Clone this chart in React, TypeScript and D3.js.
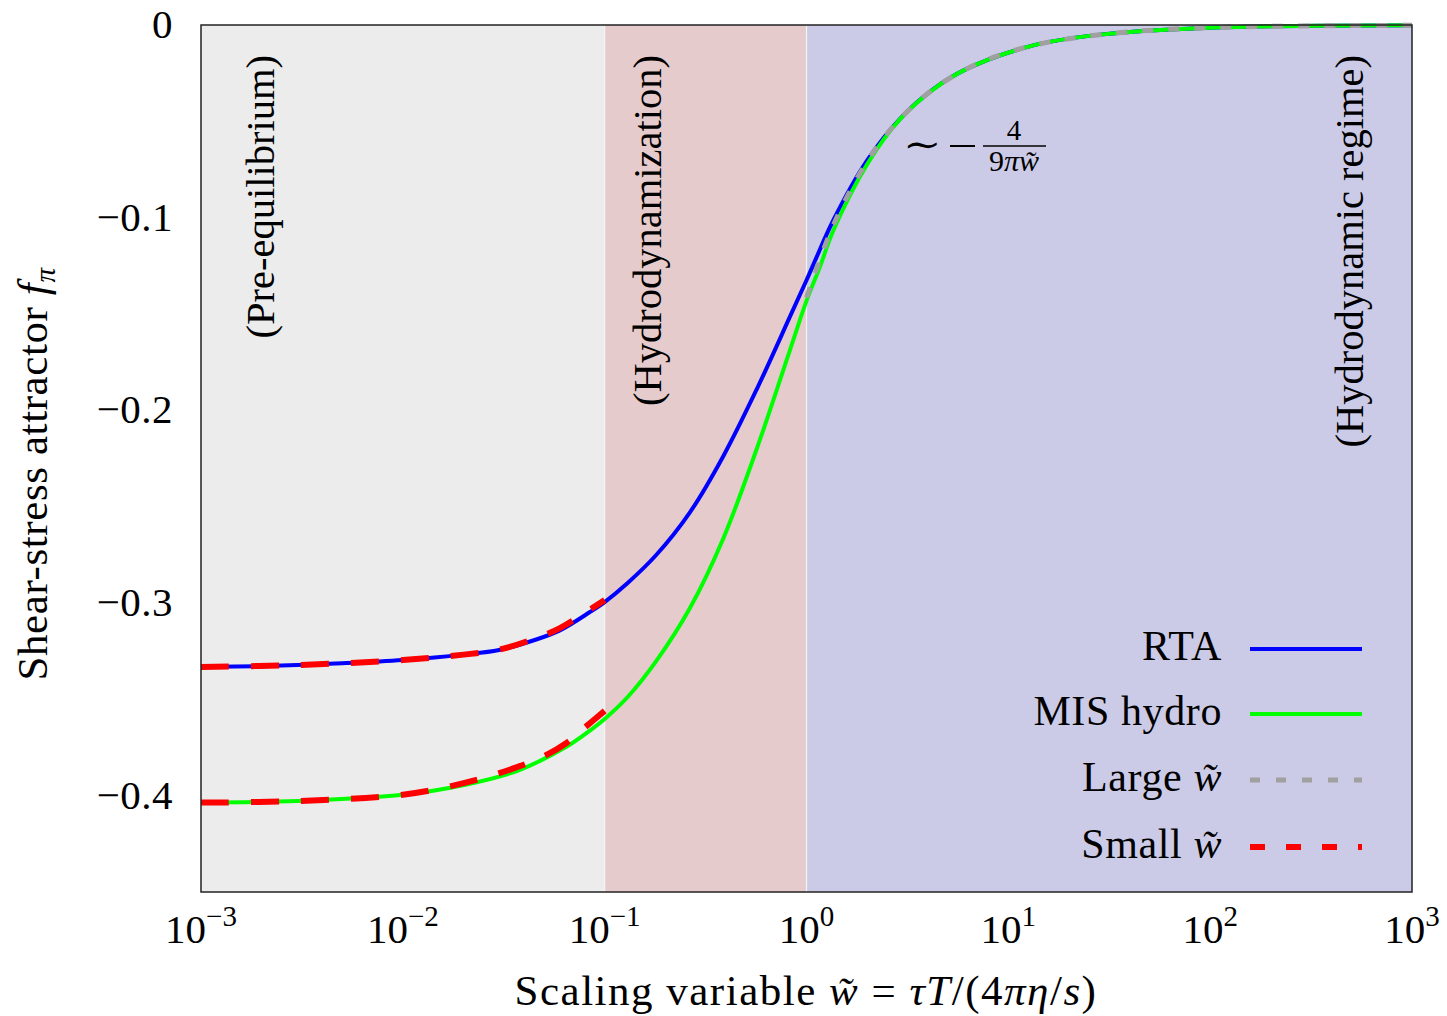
import React from "react";
import * as d3 from "d3";

// ---- data ----
const rtaW = [0.001, 0.002, 0.003, 0.005, 0.01, 0.02, 0.03, 0.045, 0.06, 0.0845, 0.1, 0.13, 0.18, 0.265, 0.387, 0.566, 0.828, 1.0, 1.08, 1.36, 1.99, 2.9, 4.25, 6.22, 13.3, 28.4, 100, 1000];
const rtaF = [-0.3332, -0.3328, -0.3322, -0.3313, -0.3296, -0.3268, -0.3244, -0.3192, -0.3142, -0.3047, -0.2995, -0.2896, -0.2751, -0.2528, -0.2238, -0.1892, -0.1514, -0.1325, -0.1245, -0.1012, -0.0705, -0.0488, -0.0333, -0.0228, -0.0106, -0.005, -0.0014, -0.00014];

const misW = [0.001, 0.003, 0.0097, 0.0207, 0.0367, 0.0649, 0.0845, 0.1, 0.13, 0.18, 0.265, 0.387, 0.566, 0.828, 1.0, 1.167, 1.36, 2.0, 2.9, 4.25, 6.22, 13.3, 28.4, 100, 1000];
const misF = [-0.4036, -0.4028, -0.3997, -0.3942, -0.3872, -0.3745, -0.3662, -0.3602, -0.3488, -0.3302, -0.3025, -0.2665, -0.2202, -0.1687, -0.1432, -0.1254, -0.1065, -0.0722, -0.049, -0.0334, -0.0228, -0.0106, -0.005, -0.0014, -0.00014];

const largeW = [1, 1.25, 1.5, 2, 2.5, 3, 4, 5, 7, 10, 15, 20, 30, 50, 100, 200, 500, 1000];
const largeF = [-0.1415, -0.1132, -0.0943, -0.0707, -0.0566, -0.0472, -0.0354, -0.0283, -0.0202, -0.0141, -0.0094, -0.0071, -0.0047, -0.0028, -0.0014, -0.0007, -0.0003, -0.00014];

const smallRtaW = [0.001, 0.003, 0.01, 0.02, 0.03, 0.045, 0.06, 0.08, 0.1];
const smallRtaF = [-0.3332, -0.3322, -0.3296, -0.3268, -0.3242, -0.3185, -0.313, -0.305, -0.2985];

const smallMisW = [0.001, 0.003, 0.01, 0.02, 0.035, 0.05, 0.065, 0.08, 0.1];
const smallMisF = [-0.4036, -0.4028, -0.3995, -0.3935, -0.386, -0.3795, -0.3725, -0.3645, -0.356];

const xTickExps = [-3, -2, -1, 0, 1, 2, 3];
const yTickVals = [0, -0.1, -0.2, -0.3, -0.4];
const yTickLabels = ["0", "\u22120.1", "\u22120.2", "\u22120.3", "\u22120.4"];

const regionBounds = [0.001, 0.1, 1, 1000];
const regionColors = ["#ececec", "#e6cbcc", "#cccbe7"];
const regionLabels = ["(Pre-equilibrium)", "(Hydrodynamization)", "(Hydrodynamic regime)"];

const legendLabels = ["RTA", "MIS hydro", "Large", "Small"];

const FONT = "'Liberation Serif', 'DejaVu Serif', serif";

export default function App() {
  const W = 1447, H = 1016;
  const x = d3.scaleLog().domain([1e-3, 1e3]).range([201, 1412]);
  const y = d3.scaleLinear().domain([-0.45, 0]).range([892, 25]);

  const mk = (ws: number[], fs: number[]) =>
    d3.line<number>()
      .x((_, i) => x(ws[i]))
      .y((v) => y(v))
      .curve(d3.curveCatmullRom.alpha(0.5))(fs) as string;

  const rtaPath = mk(rtaW, rtaF);
  const misPath = mk(misW, misF);
  const largePath = mk(largeW, largeF);
  const smallRtaPath = mk(smallRtaW, smallRtaF);
  const smallMisPath = mk(smallMisW, smallMisF);

  const regionLabelX = [274, 661, 1363];

  const legendYs = [649, 714, 780, 847];
  const legendStyles = [
    { stroke: "#0000ff", w: 4, dash: "" },
    { stroke: "#00ff00", w: 4, dash: "" },
    { stroke: "#a0a0a0", w: 5, dash: "10 16" },
    { stroke: "#ff0000", w: 6, dash: "15 21" },
  ];

  return (
    <svg width={W} height={H} style={{ position: "absolute", left: 0, top: 0, background: "#fff" }} fontFamily={FONT}>
      {/* regions */}
      {regionColors.map((c, i) => (
        <rect key={i} x={x(regionBounds[i])} y={y(0)} width={x(regionBounds[i + 1]) - x(regionBounds[i])} height={y(-0.45) - y(0)} fill={c} />
      ))}
      {[0.1, 1].map((b, i) => (
        <line key={i} x1={x(b)} x2={x(b)} y1={y(0)} y2={y(-0.45)} stroke="#f4f4f4" strokeWidth={1.2} />
      ))}

      {/* region labels */}
      {regionLabels.map((t, i) => (
        <text key={i} transform={`translate(${regionLabelX[i]},55) rotate(-90)`} textAnchor="end" fontSize={40.5} fill="#000">{t}</text>
      ))}

      {/* curves */}
      <path d={rtaPath} fill="none" stroke="#0000ff" strokeWidth={4} />
      <path d={misPath} fill="none" stroke="#00ff00" strokeWidth={4} />
      <path d={largePath} fill="none" stroke="#a0a0a0" strokeWidth={5} strokeDasharray="11 15" />
      <path d={smallRtaPath} fill="none" stroke="#ff0000" strokeWidth={6} strokeDasharray="28 22" />
      <path d={smallMisPath} fill="none" stroke="#ff0000" strokeWidth={6} strokeDasharray="28 22" />

      {/* annotation */}
      <g fontSize={40}>
        <text x={903} y={160} fontSize={46} fontFamily="'DejaVu Serif', serif" transform="scale(1,0.8) translate(0,36)">{"\u223C"}</text>
        <line x1={950} x2={975} y1={146} y2={146} stroke="#000" strokeWidth={2} />
        <line x1={983} x2={1046} y1={146} y2={146} stroke="#000" strokeWidth={1.6} />
        <text x={1014} y={140} textAnchor="middle" fontSize={29}>4</text>
        <text x={1014} y={171} textAnchor="middle" fontSize={30}>
          <tspan>9</tspan><tspan fontStyle="italic">{"\u03C0w\u0303"}</tspan>
        </text>
      </g>

      {/* frame */}
      <rect x={201} y={25} width={1211} height={867} fill="none" stroke="#222" strokeWidth={1.5} />

      {/* y ticks */}
      {yTickVals.map((v, i) => (
        <text key={i} x={173} y={y(v) + 13} textAnchor="end" fontSize={41} letterSpacing={0.5}>{yTickLabels[i]}</text>
      ))}

      {/* x ticks */}
      {xTickExps.map((e) => (
        <text key={e} x={x(Math.pow(10, e))} y={943} textAnchor="middle" fontSize={41}>
          10<tspan dy={-17} fontSize={29}>{e < 0 ? "\u2212" + Math.abs(e) : String(e)}</tspan>
        </text>
      ))}

      {/* axis titles */}
      <text x={806} y={1005} textAnchor="middle" fontSize={43} letterSpacing={1.5}>
        Scaling variable <tspan fontStyle="italic">{"w\u0303"}</tspan> = <tspan fontStyle="italic">{"\u03C4T"}</tspan>/(4<tspan fontStyle="italic">{"\u03C0\u03B7"}</tspan>/<tspan fontStyle="italic">s</tspan>)
      </text>
      <text transform="translate(47,474) rotate(-90)" textAnchor="middle" fontSize={43} letterSpacing={0.6}>
        Shear-stress attractor <tspan fontStyle="italic">f</tspan><tspan fontStyle="italic" fontSize={29} dy={8}>{"\u03C0"}</tspan>
      </text>

      {/* legend */}
      {legendLabels.map((t, i) => (
        <g key={i}>
          <text x={1222} y={legendYs[i] + 11} textAnchor="end" fontSize={42} letterSpacing={0.6}>
            {t}{i >= 2 ? <tspan fontStyle="italic">{" w\u0303"}</tspan> : null}
          </text>
          <line x1={1250} x2={1362} y1={legendYs[i]} y2={legendYs[i]} stroke={legendStyles[i].stroke} strokeWidth={legendStyles[i].w} strokeDasharray={legendStyles[i].dash || undefined} />
        </g>
      ))}
    </svg>
  );
}
